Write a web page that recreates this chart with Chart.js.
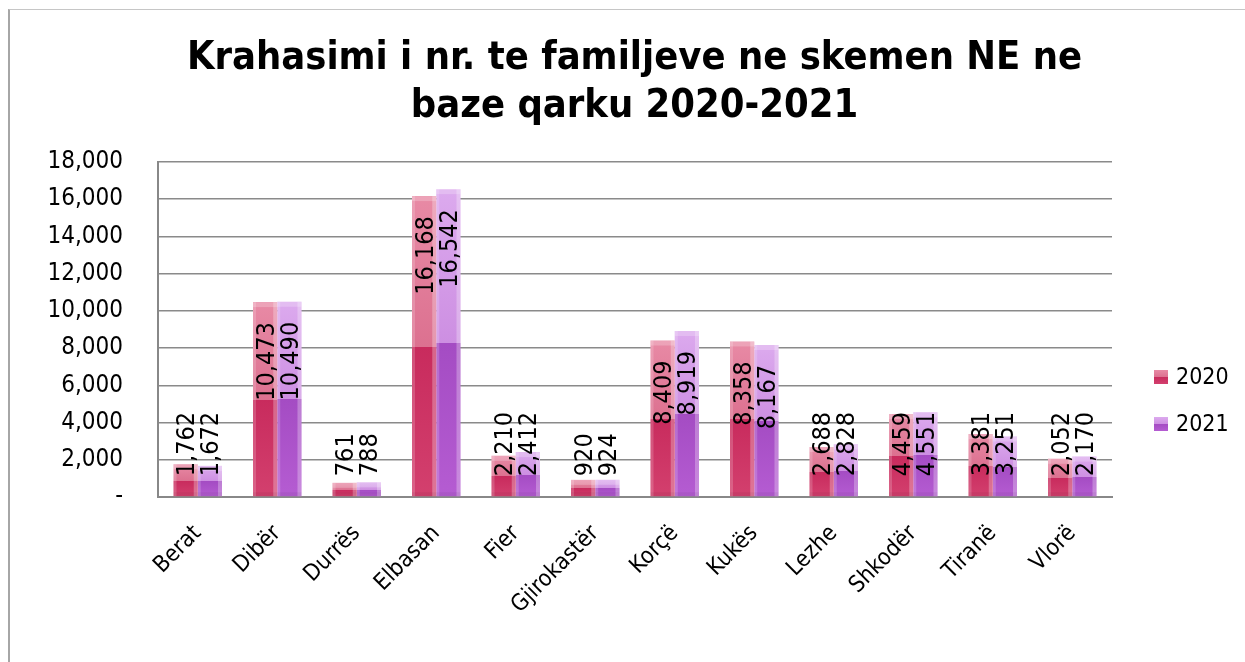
<!DOCTYPE html>
<html>
<head>
<meta charset="utf-8">
<script src="https://cdn.jsdelivr.net/npm/chart.js@4.4.1/dist/chart.umd.min.js"></script>
<style>
  html, body { margin: 0; padding: 0; background: #fff; }
  #wrap { position: relative; width: 1245px; height: 662px; overflow: hidden; }
  #frame { position: absolute; left: 8px; top: 9px; width: 1300px; height: 700px;
           border-left: 2px solid #a6a6a6; border-top: 1px solid #c6c6c6; box-sizing: border-box; }
  canvas { position: absolute; left: 0; top: 0; }
</style>
</head>
<body>
<div id="wrap">
  <div id="frame"></div>
  <canvas id="c" width="1245" height="662"></canvas>
</div>
<script>
const titleLines = ['Krahasimi i nr. te familjeve ne skemen NE ne', 'baze qarku 2020-2021'];
const categories = ['Berat', 'Dibër', 'Durrës', 'Elbasan', 'Fier', 'Gjirokastër', 'Korçë', 'Kukës', 'Lezhe', 'Shkodër', 'Tiranë', 'Vlorë'];
const seriesNames = ['2020', '2021'];
const values2020 = [1762, 10473, 761, 16168, 2210, 920, 8409, 8358, 2688, 4459, 3381, 2052];
const values2021 = [1672, 10490, 788, 16542, 2412, 924, 8919, 8167, 2828, 4551, 3251, 2170];
const yMin = 0, yMax = 18000, yStep = 2000;
const zeroTickLabel = '-';

const FONT = "'DejaVu Sans Condensed', 'DejaVu Sans', sans-serif";
Chart.defaults.font.family = FONT;
Chart.defaults.color = '#000';

// [topLight, midLight, midDark, bottomDark]
const palettes = [
  ['#e88aa5', '#dc7190', '#c82b5d', '#d3406e'],
  ['#dcaaee', '#cd8fe2', '#a44cc3', '#b55cd2']
];

function barFill(dsIndex) {
  return function(ctx) {
    const chart = ctx.chart;
    const p = palettes[dsIndex];
    if (ctx.type !== 'data' || !chart.chartArea) return p[2];
    const y = chart.scales.y;
    const top = y.getPixelForValue(ctx.raw);
    const base = y.getPixelForValue(0);
    if (!isFinite(top) || base - top < 1) return p[2];
    const g = chart.ctx.createLinearGradient(0, top, 0, base);
    g.addColorStop(0, p[0]);
    g.addColorStop(0.5, p[1]);
    g.addColorStop(0.5, p[2]);
    g.addColorStop(1, p[3]);
    return g;
  };
}

// subtle glassy edges on each bar (drawn over the library's bar elements)
const barGloss = {
  id: 'barGloss',
  afterDatasetsDraw(chart) {
    const c = chart.ctx;
    c.save();
    chart.data.datasets.forEach((ds, di) => {
      chart.getDatasetMeta(di).data.forEach(bar => {
        const w = bar.width, l = bar.x - w / 2, t = bar.y, h = bar.base - bar.y;
        c.fillStyle = 'rgba(255,255,255,0.18)';
        c.fillRect(l, t, 3, h);
        c.fillStyle = 'rgba(255,255,255,0.28)';
        c.fillRect(l + w - 4, t, 4, h);
        c.fillStyle = 'rgba(255,255,255,0.22)';
        c.fillRect(l, t, w, Math.min(5, h));
        c.fillStyle = 'rgba(0,0,0,0.05)';
        c.fillRect(l, bar.base - Math.min(4, h), w, Math.min(4, h));
      });
    });
    c.restore();
  }
};

const valueLabels = {
  id: 'valueLabels',
  afterDatasetsDraw(chart) {
    const c = chart.ctx;
    c.save();
    c.font = '25px ' + FONT;
    c.fillStyle = '#000';
    c.textAlign = 'left';
    c.textBaseline = 'middle';
    chart.data.datasets.forEach((ds, di) => {
      const meta = chart.getDatasetMeta(di);
      meta.data.forEach((bar, i) => {
        const txt = ds.data[i].toLocaleString('en-US');
        const w = c.measureText(txt).width;
        const bottom = Math.min(bar.y + 20 + w, bar.base - 20);
        c.save();
        c.translate(bar.x + 2, bottom);
        c.rotate(-Math.PI / 2);
        c.fillText(txt, 0, 0);
        c.restore();
      });
    });
    c.restore();
  }
};

// chart title and side legend (text from the named arrays above)
const titleAndLegend = {
  id: 'titleAndLegend',
  afterDraw(chart) {
    const c = chart.ctx;
    c.save();
    c.font = 'bold 39.5px ' + FONT;
    c.fillStyle = '#000';
    c.textAlign = 'center';
    c.textBaseline = 'middle';
    const ty = [59, 107];
    titleLines.forEach((line, i) => c.fillText(line, 634.5, ty[i]));

    c.font = '23px ' + FONT;
    c.textAlign = 'left';
    const ys = [377, 424];
    chart.data.datasets.forEach((ds, di) => {
      const p = palettes[di];
      const cy = ys[di];
      const g = c.createLinearGradient(0, cy - 7, 0, cy + 7);
      g.addColorStop(0, p[0]); g.addColorStop(0.5, p[1]);
      g.addColorStop(0.5, p[2]); g.addColorStop(1, p[3]);
      c.fillStyle = g;
      c.fillRect(1154, cy - 7, 14, 14);
      c.fillStyle = '#000';
      c.fillText(ds.label, 1176, cy + 1);
    });
    c.restore();
  }
};

new Chart(document.getElementById('c'), {
  type: 'bar',
  data: {
    labels: categories,
    datasets: [
      { label: seriesNames[0], data: values2020, backgroundColor: barFill(0), borderWidth: 0 },
      { label: seriesNames[1], data: values2021, backgroundColor: barFill(1), borderWidth: 0 }
    ]
  },
  options: {
    responsive: false,
    animation: false,
    devicePixelRatio: 1,
    layout: { padding: { left: 0, right: 133, top: 162, bottom: 0 } },
    datasets: { bar: { categoryPercentage: 0.61, barPercentage: 1.0 } },
    plugins: {
      legend: { display: false },
      tooltip: { enabled: false },
      title: { display: false }
    },
    scales: {
      x: {
        grid: { display: false },
        border: { display: true, color: '#888', width: 2 },
        ticks: { maxRotation: 45, minRotation: 45, autoSkip: false, padding: 15, font: { size: 23 }, color: '#000' },
        afterFit(s) { s.height = 165; }
      },
      y: {
        min: yMin, max: yMax,
        grid: { color: '#8a8a8a', lineWidth: 1.6, drawTicks: false },
        border: { display: true, color: '#888', width: 2 },
        ticks: {
          stepSize: yStep, padding: 35, font: { size: 24 }, color: '#000',
          callback: v => v === 0 ? zeroTickLabel : v.toLocaleString('en-US')
        },
        afterFit(s) { s.width = 158; }
      }
    }
  },
  plugins: [barGloss, valueLabels, titleAndLegend]
});
</script>
</body>
</html>
